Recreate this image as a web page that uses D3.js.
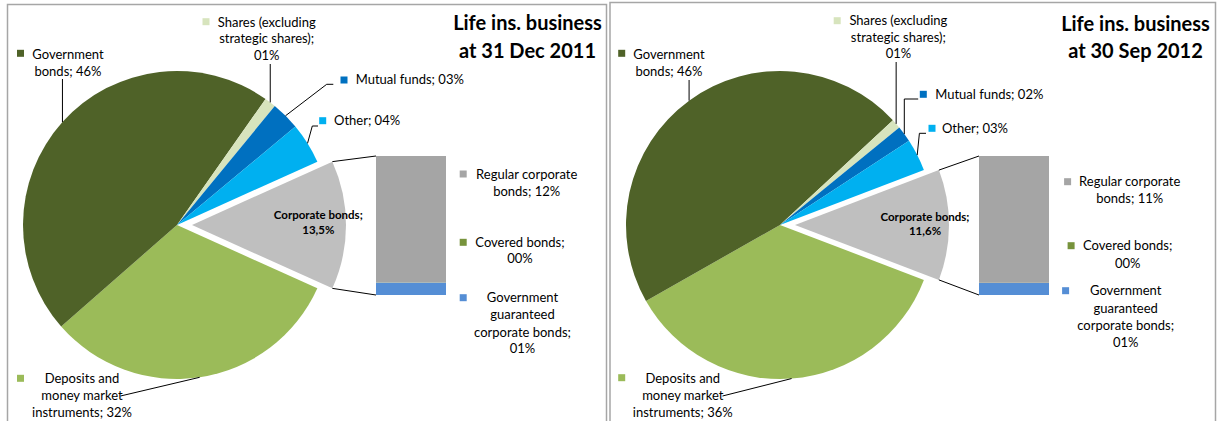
<!DOCTYPE html>
<html>
<head>
<meta charset="utf-8">
<script src="https://cdn.jsdelivr.net/npm/d3@7"></script>
<style>
  html, body { margin: 0; padding: 0; background: #fff; }
  svg { display: block; font-family: Lato, "Open Sans", sans-serif; }
</style>
</head>
<body>
<script>
// Asset allocation of the life insurance business, pie with a bar breaking down corporate bonds.
const pieCategories = [
  "Corporate bonds",
  "Deposits and money market instruments",
  "Government bonds",
  "Shares (excluding strategic shares)",
  "Mutual funds",
  "Other"
];
const pieValues2011 = [13.5, 31.8, 46.2, 1.2, 3.0, 4.3];
const pieValues2012 = [11.6, 36.0, 46.3, 1.0, 1.7, 3.4];

// Corporate bonds split, stacked bottom to top
const barCategories = [
  "Government guaranteed corporate bonds",
  "Covered bonds",
  "Regular corporate bonds"
];
const barValues2011 = [1.2, 0.02, 12.28];
const barValues2012 = [1.0, 0.02, 10.58];

const titles2011 = ["Life ins. business", "at 31 Dec 2011"];
const titles2012 = ["Life ins. business", "at 30 Sep 2012"];

// Wrapped label text; the value is appended to the last line
const labelLines = {
  "Government bonds": ["Government", "bonds;"],
  "Shares (excluding strategic shares)": ["Shares (excluding", "strategic shares);", ""],
  "Mutual funds": ["Mutual funds;"],
  "Other": ["Other;"],
  "Deposits and money market instruments": ["Deposits and", "money market", "instruments;"],
  "Regular corporate bonds": ["Regular corporate", "bonds;"],
  "Covered bonds": ["Covered bonds;", ""],
  "Government guaranteed corporate bonds": ["Government", "guaranteed", "corporate bonds;", ""]
};

const colors = {
  "Corporate bonds": "#bfbfbf",
  "Deposits and money market instruments": "#9bbb59",
  "Government bonds": "#4f6228",
  "Shares (excluding strategic shares)": "#d7e4bd",
  "Mutual funds": "#0070c0",
  "Other": "#00b0f0",
  "Regular corporate bonds": "#a5a5a5",
  "Covered bonds": "#77933c",
  "Government guaranteed corporate bonds": "#558ed5"
};

const W = 1220, H = 421;
const geom = { cx: 177, cy: 225, r: 154, explode: 15, barX: 376, barW: 70, barTop: 156, barBottom: 295 };

const layout2011 = {
  frame: { x: 7.5, y: 4.5, w: 599 },
  title: { x: 527.5, y: [30, 58.3] },
  corp: { x: 318.3, y: [218.5, 234] },
  slices: {
    "Government bonds": { key: [20.5, 53.3], anchor: "middle", x: 68, y: [58.5, 75.5], vert: 79 },
    "Shares (excluding strategic shares)": { key: [206, 21.7], anchor: "middle", x: 266.7, y: [26.7, 43.3, 60], vert: 64 },
    "Mutual funds": { key: [344, 80], anchor: "start", x: 355.7, y: [84], pts: [[326.7, 84.3], [333.3, 84.3]] },
    "Other": { key: [322.7, 120.7], anchor: "start", x: 334, y: [125], pts: [[312.3, 126], [318, 126]] },
    "Deposits and money market instruments": { key: [20.5, 378.3], anchor: "middle", x: 82, y: [382.7, 400, 417.3], pts: [[120.5, 396]] }
  },
  bars: {
    "Regular corporate bonds": { key: [463.2, 174], x: 526.7, y: [178.7, 196] },
    "Covered bonds": { key: [463.2, 242.3], x: 520, y: [246.7, 263.3] },
    "Government guaranteed corporate bonds": { key: [463.2, 297.7], x: 522.5, y: [302.3, 319.3, 336.7, 353.3] }
  }
};

const layout2012 = {
  frame: { x: 7, y: 2.5, w: 605.5 },
  title: { x: 532.5, y: [30.5, 58.3] },
  corp: { x: 322, y: [220.7, 235] },
  slices: {
    "Government bonds": { key: [18.7, 53.3], anchor: "middle", x: 66, y: [58.5, 75.5], vert: 80 },
    "Shares (excluding strategic shares)": { key: [234.2, 20.7], anchor: "middle", x: 295.4, y: [25, 41.7, 58.3], vert: 62 },
    "Mutual funds": { key: [320.3, 94.3], anchor: "start", x: 332.2, y: [99], pts: [[301.3, 99], [315.2, 99]] },
    "Other": { key: [329, 128.3], anchor: "start", x: 338.9, y: [133.3], pts: [[316.4, 133.3], [323, 133.3]] },
    "Deposits and money market instruments": { key: [18.7, 377.7], anchor: "middle", x: 79.8, y: [382.7, 400, 416.7], pts: [[119.5, 396]] }
  },
  bars: {
    "Regular corporate bonds": { key: [464.6, 181.7], x: 526.7, y: [185.7, 202.7] },
    "Covered bonds": { key: [468.1, 245.7], x: 524.7, y: [250, 267.7] },
    "Government guaranteed corporate bonds": { key: [462.6, 290.7], x: 522.7, y: [295, 312.7, 330, 346.7] }
  }
};

const panels = [
  { offset: 0, title: titles2011, pie: pieValues2011, bar: barValues2011, layout: layout2011 },
  { offset: 603, title: titles2012, pie: pieValues2012, bar: barValues2012, layout: layout2012 }
];

const pct = v => d3.format("02d")(Math.round(v)) + "%";
const decPct = v => d3.format(".1f")(v).replace(".", ",") + "%";
const TEXT = "#000";

const svg = d3.select("body").append("svg").attr("width", W).attr("height", H);
svg.append("rect").attr("width", W).attr("height", H).attr("fill", "#fff");

function drawLabel(g, lines, value, spec, anchor, fontSize) {
  const t = g.append("text")
    .attr("text-anchor", anchor)
    .attr("font-size", fontSize)
    .attr("fill", TEXT);
  lines.forEach((ln, i) => {
    const last = i === lines.length - 1;
    const s = last ? (ln ? ln + " " + pct(value) : pct(value)) : ln;
    t.append("tspan").attr("x", spec.x).attr("y", spec.y[i]).text(s);
  });
}

panels.forEach(p => {
  const L = p.layout;
  const g = svg.append("g").attr("transform", `translate(${p.offset},0)`);

  // Frame
  g.append("rect")
    .attr("x", L.frame.x).attr("y", L.frame.y)
    .attr("width", L.frame.w).attr("height", H + 20)
    .attr("fill", "none").attr("stroke", "#a6a6a6").attr("stroke-width", 1.5);

  // Pie: corporate bonds slice centred on the right-hand side
  const corpIdx = 0;
  const total = d3.sum(p.pie);
  const corpSpan = p.pie[corpIdx] / total * 2 * Math.PI;
  const start = Math.PI / 2 - corpSpan / 2;
  const pie = d3.pie().sort(null).startAngle(start).endAngle(start + 2 * Math.PI);
  const arcs = pie(p.pie).map((a, i) => Object.assign(a, { name: pieCategories[i] }));
  const arc = d3.arc().innerRadius(0).outerRadius(geom.r);
  const onCircle = (cx, cy, ang, r) => [cx + r * Math.sin(ang), cy - r * Math.cos(ang)];

  const pg = g.append("g").attr("transform", `translate(${geom.cx},${geom.cy})`);
  pg.selectAll("path.slice").data(arcs).join("path")
    .attr("class", "slice")
    .attr("d", arc)
    .attr("fill", d => colors[d.name])
    .attr("transform", (d, i) => {
      if (i !== corpIdx) return null;
      const m = (d.startAngle + d.endAngle) / 2;
      return `translate(${geom.explode * Math.sin(m)},${-geom.explode * Math.cos(m)})`;
    });

  // Bar breaking down corporate bonds
  const corp = arcs[corpIdx];
  const mid = (corp.startAngle + corp.endAngle) / 2;
  const ecx = geom.cx + geom.explode * Math.sin(mid), ecy = geom.cy - geom.explode * Math.cos(mid);
  const y = d3.scaleLinear().domain([0, d3.sum(p.bar)]).range([geom.barBottom, geom.barTop]);
  const stack = d3.stack().keys(barCategories)([Object.fromEntries(barCategories.map((c, i) => [c, p.bar[i]]))]);

  // Connector lines from slice corners to bar corners
  const cTop = onCircle(ecx, ecy, corp.startAngle, geom.r);
  const cBot = onCircle(ecx, ecy, corp.endAngle, geom.r);
  g.append("line").attr("x1", cTop[0]).attr("y1", cTop[1]).attr("x2", geom.barX).attr("y2", y(d3.sum(p.bar)))
    .attr("stroke", "#000").attr("stroke-width", 1);
  g.append("line").attr("x1", cBot[0]).attr("y1", cBot[1]).attr("x2", geom.barX).attr("y2", y(0))
    .attr("stroke", "#000").attr("stroke-width", 1);

  g.selectAll("rect.seg").data(stack).join("rect")
    .attr("class", "seg")
    .attr("x", geom.barX).attr("width", geom.barW)
    .attr("y", d => y(d[0][1]))
    .attr("height", d => y(d[0][0]) - y(d[0][1]))
    .attr("fill", d => colors[d.key]);

  // Slice leader lines and labels
  arcs.forEach(a => {
    const spec = L.slices[a.name];
    if (!spec) return;
    const m = (a.startAngle + a.endAngle) / 2;
    const p0 = onCircle(geom.cx, geom.cy, m, geom.r);
    const pts = spec.vert !== undefined ? [p0, [p0[0], spec.vert]] : [p0].concat(spec.pts);
    g.append("path").attr("d", d3.line()(pts))
      .attr("fill", "none").attr("stroke", "#000").attr("stroke-width", 1);
    g.append("rect")
      .attr("x", spec.key[0] - 3.5).attr("y", spec.key[1] - 3.5)
      .attr("width", 7).attr("height", 7)
      .attr("fill", colors[a.name]);
    drawLabel(g, labelLines[a.name], a.value, spec, spec.anchor, 13);
  });

  // Corporate bonds label inside the exploded slice
  const ct = g.append("text").attr("text-anchor", "middle").attr("font-size", 11.5)
    .attr("font-weight", "bold").attr("fill", TEXT);
  ct.append("tspan").attr("x", L.corp.x).attr("y", L.corp.y[0]).text(pieCategories[corpIdx] + ";");
  ct.append("tspan").attr("x", L.corp.x).attr("y", L.corp.y[1]).text(decPct(corp.value));

  // Bar segment labels
  barCategories.forEach((c, i) => {
    const spec = L.bars[c];
    g.append("rect")
      .attr("x", spec.key[0] - 3.5).attr("y", spec.key[1] - 3.5)
      .attr("width", 7).attr("height", 7)
      .attr("fill", colors[c]);
    drawLabel(g, labelLines[c], p.bar[i], spec, "middle", 13);
  });

  // Title
  const tt = g.append("text").attr("text-anchor", "middle").attr("font-size", 20)
    .attr("font-weight", "bold").attr("fill", "#000");
  p.title.forEach((s, i) => tt.append("tspan").attr("x", L.title.x).attr("y", L.title.y[i]).text(s));
});
</script>
</body>
</html>
